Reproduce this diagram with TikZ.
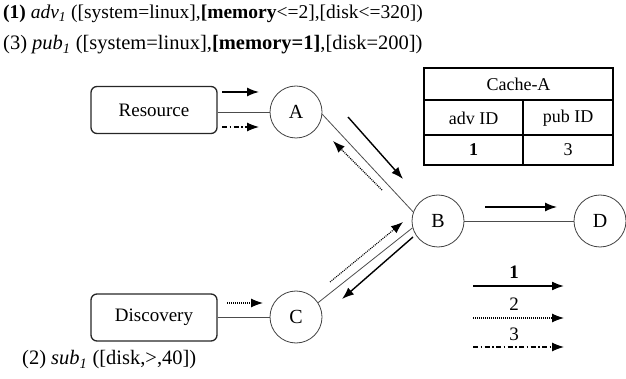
\documentclass[tikz,border=0pt]{standalone}
\usepackage{fontspec}
\setmainfont{Liberation Serif}
\usetikzlibrary{arrows.meta}
\begin{document}
\begin{tikzpicture}[x=1pt,y=-1pt,
  circ/.style={draw=black!75,line width=0.8pt,circle,minimum size=52pt,inner sep=0pt,font=\fontsize{20}{22}\selectfont},
  rbox/.style={draw=black!85,line width=1.3pt,rounded corners=6pt,minimum width=126pt,minimum height=47pt,inner sep=0pt,font=\fontsize{19}{21}\selectfont},
  link/.style={draw=black!70,line width=0.8pt},
  tip/.style={-{Latex[length=12pt,width=9pt]}},
  solidarr/.style={tip,line width=1.4pt},
  dotarr/.style={tip,line width=1.1pt,dash pattern=on 1pt off 1pt},
  dasharr/.style={tip,line width=1.1pt,dash pattern=on 5pt off 2.5pt on 1.5pt off 2.5pt},
  txt/.style={inner sep=0pt,font=\fontsize{19}{21}\selectfont},
  htxt/.style={inner sep=0pt,font=\fontsize{20.5}{22}\selectfont},
  tbl/.style={line width=1.4pt}]
\useasboundingbox (0,0) rectangle (626,379);
% header texts
\node[htxt,anchor=west,font=\fontsize{19.5}{22}\selectfont] (t1) at (3,14) {\textbf{(1)} \textit{adv}\textsubscript{\textit{1}} ([system=linux],\textbf{[memory}<=2],[disk<=320])};
\node[htxt,anchor=west] (t2) at (3,45) {(3) \textit{pub}\textsubscript{\textit{1}} ([system=linux],\textbf{[memory=1]},[disk=200])};
\node[htxt,anchor=west] (t3) at (22,360) {(2) \textit{sub}\textsubscript{\textit{1}} ([disk,>,40])};
% nodes
\node[rbox] (res) at (154,110) {Resource};
\node[rbox] (disc) at (154,317.5) {Discovery};
\node[circ] (A) at (296,112) {A};
\node[circ] (B) at (438,221) {B};
\node[circ] (C) at (296,317) {C};
\node[circ] (D) at (600,221) {D};
% links
\draw[link] (res.east |- A) -- (A.west);
\draw[link] (disc.east |- C) -- (C.west);
\draw[link] (A.-5) -- (B.160);
\draw[link] (B.195) -- (C.33);
\draw[link] (B.east) -- (D.west);
% message arrows
\coordinate (r1s) at (222,92);  \coordinate (r1e) at (259,92);
\coordinate (r3s) at (222,127); \coordinate (r3e) at (259,127);
\coordinate (d2s) at (227,303); \coordinate (d2e) at (263,303);
\coordinate (ab1s) at (348,117); \coordinate (ab1e) at (403,179);
\coordinate (ba2s) at (382,190); \coordinate (ba2e) at (333,141);
\coordinate (cb2s) at (330,282); \coordinate (cb2e) at (403,222);
\coordinate (bc1s) at (413,237); \coordinate (bc1e) at (342,299);
\coordinate (bd1s) at (485,207); \coordinate (bd1e) at (557,207);
\draw[solidarr] (r1s) -- (r1e);
\draw[dasharr] (r3s) -- (r3e);
\draw[dotarr] (d2s) -- (d2e);
\draw[solidarr] (ab1s) -- (ab1e);
\draw[dotarr] (ba2s) -- (ba2e);
\draw[dotarr] (cb2s) -- (cb2e);
\draw[solidarr] (bc1s) -- (bc1e);
\draw[solidarr] (bd1s) -- (bd1e);
% legend
\coordinate (l1s) at (473,286); \coordinate (l1e) at (564,286);
\coordinate (l2s) at (473,318); \coordinate (l2e) at (564,318);
\coordinate (l3s) at (473,347); \coordinate (l3e) at (564,347);
\draw[solidarr,line width=1.8pt] (l1s) -- (l1e);
\draw[dotarr] (l2s) -- (l2e);
\draw[dasharr] (l3s) -- (l3e);
\node[txt] (n1) at (514,272) {\textbf{1}};
\node[txt] (n2) at (514,304) {2};
\node[txt] (n3) at (514,334) {3};
% table
\draw[tbl] (424,68) rectangle (613,165);
\draw[tbl] (424,100) -- (613,100);
\draw[tbl] (424,135) -- (613,135);
\draw[tbl] (523,100) -- (523,165);
\node[txt,font=\fontsize{18}{20}\selectfont] (ca) at (518.5,84) {Cache-A};
\node[txt,font=\fontsize{18}{20}\selectfont] (h1) at (473.5,118) {adv ID};
\node[txt,font=\fontsize{18}{20}\selectfont] (h2) at (568,118) {pub ID};
\node[txt,font=\fontsize{18}{20}\selectfont] (v1) at (473.5,150) {\textbf{1}};
\node[txt,font=\fontsize{18}{20}\selectfont] (v2) at (568,150) {3};
\end{tikzpicture}
\end{document}
